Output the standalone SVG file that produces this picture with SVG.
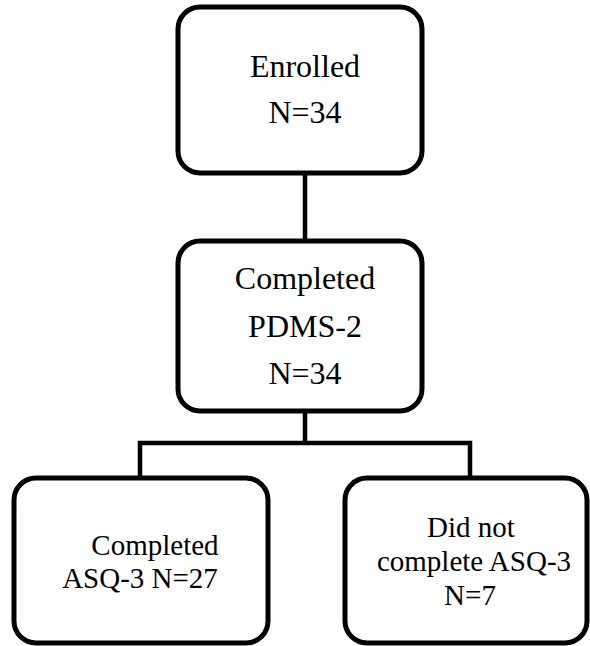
<svg xmlns="http://www.w3.org/2000/svg" width="590" height="646" viewBox="0 0 590 646">
<style>
.box{fill:#fff;stroke:#000;stroke-width:5}
.ln{fill:none;stroke:#000;stroke-width:4.5}
text{font-family:"Liberation Serif","Times New Roman",serif;font-size:32px;fill:#000;text-anchor:middle}
text.sm{font-size:29px}
</style>
<rect width="590" height="646" fill="#fff"/>
<g id="connectors">
<line class="ln" x1="305" y1="173" x2="305" y2="241"/>
<line class="ln" x1="305" y1="411" x2="305" y2="443"/>
<polyline class="ln" points="140,478 140,443 470,443 470,478"/>
</g>
<g id="enrolled">
<rect class="box" x="178" y="7" width="244" height="166" rx="22"/>
<text x="305" y="77">Enrolled</text>
<text x="305" y="123">N=34</text>
</g>
<g id="pdms">
<rect class="box" x="178" y="241" width="244" height="170" rx="22"/>
<text x="305" y="289">Completed</text>
<text x="305" y="337">PDMS-2</text>
<text x="305" y="384">N=34</text>
</g>
<g id="asq-complete">
<rect class="box" x="14" y="478" width="254" height="165" rx="22"/>
<text class="sm" x="155" y="555">Completed</text>
<text class="sm" x="140" y="588">ASQ-3 N=27</text>
</g>
<g id="asq-incomplete">
<rect class="box" x="345" y="478" width="242" height="165" rx="22"/>
<text class="sm" x="471" y="537">Did not</text>
<text class="sm" x="474" y="571">complete ASQ-3</text>
<text class="sm" x="470" y="605">N=7</text>
</g>
</svg>
